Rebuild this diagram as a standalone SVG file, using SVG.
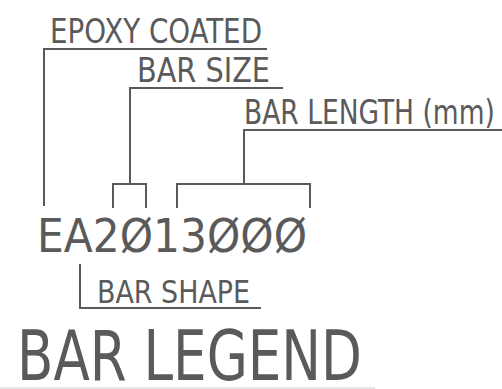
<svg xmlns="http://www.w3.org/2000/svg" width="502" height="389" viewBox="0 0 502 389">
<style>
.t{font-family:"DejaVu Sans","Liberation Sans",sans-serif;font-stretch:condensed;fill:#5a5a5a}
.c{fill:none;stroke:#5a5a5a;stroke-width:2;stroke-linecap:square}
</style>
<rect width="502" height="389" fill="#fff"/>
<g id="epoxy-coated"><text class="t" x="50" y="43" font-size="34" textLength="212" lengthAdjust="spacingAndGlyphs">EPOXY COATED</text></g>
<g id="bar-size"><text class="t" x="137" y="82" font-size="33" textLength="133" lengthAdjust="spacingAndGlyphs">BAR SIZE</text></g>
<g id="bar-length"><text class="t" transform="translate(244 124) scale(0.88 1)" x="0" y="0" font-size="33" textLength="285" lengthAdjust="spacingAndGlyphs">BAR LENGTH (mm)</text></g>
<g id="code"><text class="t" x="37" y="252" font-size="47" textLength="270" lengthAdjust="spacingAndGlyphs">EA2Ø13ØØØ</text></g>
<g id="bar-shape"><text class="t" x="97" y="303" font-size="32" textLength="153" lengthAdjust="spacingAndGlyphs">BAR SHAPE</text></g>
<g id="title"><text class="t" x="17" y="380" font-size="69" textLength="345" lengthAdjust="spacingAndGlyphs">BAR LEGEND</text></g>
<g id="connectors">
<polyline class="c" points="266,49 44,49 44,205"/>
<polyline class="c" points="282,88 130,88 130,184"/>
<polyline class="c" points="113,207 113,184 146,184 146,207"/>
<polyline class="c" points="502,130 244,130 244,184"/>
<polyline class="c" points="177,207 177,184 310,184 310,207"/>
<polyline class="c" points="80,265 80,308 260,308"/>
<line x1="0" y1="388" x2="375" y2="388" stroke="#ccc" stroke-width="1"/>
</g>
</svg>
